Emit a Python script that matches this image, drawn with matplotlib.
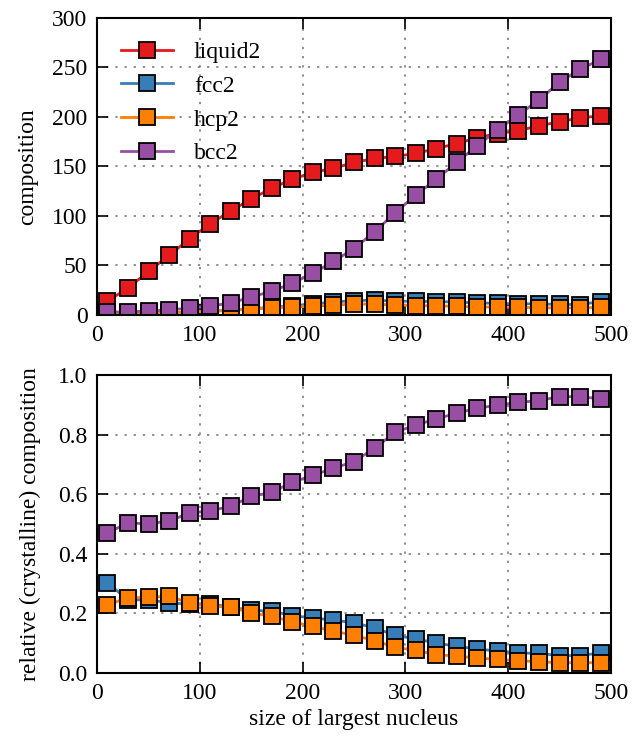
import matplotlib
matplotlib.use('Agg')
import matplotlib.pyplot as plt
import numpy as np

plt.rcParams['font.family'] = ['Liberation Serif', 'DejaVu Serif']
plt.rcParams['font.size'] = 16

size = [10, 30, 50, 70, 90, 110, 130, 150, 170, 190, 210, 230, 250,
        270, 290, 310, 330, 350, 370, 390, 410, 430, 450, 470, 490]

# absolute composition
liquid2 = [14, 27, 44, 60, 77, 92, 105, 117, 128, 137, 144, 148, 154,
           158, 160, 163, 168, 173, 179, 183, 186, 191, 195, 199, 201]
fcc2 = [1.9, 1.5, 2.0, 2.3, 3.0, 3.8, 4.7, 6.2, 7.8, 9.2, 11.1, 13.0, 14.5,
        14.8, 14.0, 13.6, 13.5, 13.0, 12.0, 11.8, 11.2, 11.2, 10.6, 10.5, 13.5]
hcp2 = [1.5, 1.5, 2.0, 2.5, 3.1, 3.7, 4.6, 5.8, 7.0, 8.0, 8.8, 10.0, 11.0,
        11.0, 10.0, 9.4, 9.2, 8.7, 8.0, 8.0, 7.6, 7.4, 7.0, 7.0, 7.6]
bcc2 = [3, 3, 4, 5, 7, 9, 12, 18, 24, 32, 42, 54, 67,
        84, 103, 121, 137, 154, 171, 187, 202, 217, 235, 248, 258]

# relative (crystalline) composition
fcc2_rel = [0.302, 0.245, 0.245, 0.235, 0.23, 0.232, 0.22, 0.21, 0.207, 0.192, 0.184, 0.177, 0.168,
            0.151, 0.126, 0.114, 0.10, 0.089, 0.08, 0.073, 0.067, 0.065, 0.058, 0.058, 0.067]
hcp2_rel = [0.229, 0.251, 0.254, 0.257, 0.235, 0.223, 0.221, 0.201, 0.19, 0.171, 0.156, 0.14, 0.126,
            0.108, 0.086, 0.075, 0.061, 0.056, 0.05, 0.045, 0.041, 0.037, 0.034, 0.034, 0.034]
bcc2_rel = [0.47, 0.503, 0.50, 0.51, 0.536, 0.544, 0.559, 0.592, 0.606, 0.64, 0.663, 0.687, 0.709,
            0.754, 0.807, 0.832, 0.852, 0.872, 0.888, 0.899, 0.908, 0.914, 0.927, 0.927, 0.92]

colors = {'liquid2': '#e41a1c', 'fcc2': '#377eb8', 'hcp2': '#ff7f00', 'bcc2': '#984ea3'}

fig = plt.figure(figsize=(6.39, 7.41), dpi=100)
ax1 = fig.add_axes([0.152, 0.575, 0.804, 0.401])
ax2 = fig.add_axes([0.152, 0.092, 0.804, 0.402])

style = dict(marker='s', markersize=12, markeredgecolor='k', markeredgewidth=1.3, linewidth=2)

for name, vals in [('liquid2', liquid2), ('fcc2', fcc2), ('hcp2', hcp2), ('bcc2', bcc2)]:
    ax1.plot(size, vals, color=colors[name], label=name, **style)

for name, vals in [('fcc2', fcc2_rel), ('hcp2', hcp2_rel), ('bcc2', bcc2_rel)]:
    ax2.plot(size, vals, color=colors[name], label=name, **style)

ax1.set_xlim(0, 500)
ax1.set_ylim(0, 300)
ax1.set_yticks(np.arange(0, 301, 50))
ax1.set_ylabel('composition', fontsize=17, labelpad=10)
ax1.legend(loc='upper left', frameon=False, handlelength=2.2, handletextpad=0.9,
           borderaxespad=0.6, labelspacing=0.52, fontsize=17)

ax2.set_xlim(0, 500)
ax2.set_ylim(0, 1.0)
ax2.set_yticks(np.arange(0, 1.01, 0.2))
ax2.set_yticklabels(['%.1f' % v for v in np.arange(0, 1.01, 0.2)])
ax2.set_xlabel('size of largest nucleus', fontsize=17)
ax2.set_ylabel('relative (crystalline) composition', fontsize=17, labelpad=12)

for ax in (ax1, ax2):
    ax.set_xticks(np.arange(0, 501, 100))
    ax.grid(True, color='0.45', linestyle=(0, (1.5, 4.5)), linewidth=1.1)
    ax.tick_params(direction='in', top=True, right=True, length=8, width=1.2, labelsize=17, pad=7)
    for s in ax.spines.values():
        s.set_linewidth(1.5)

fig.savefig('out.png', dpi=100)
